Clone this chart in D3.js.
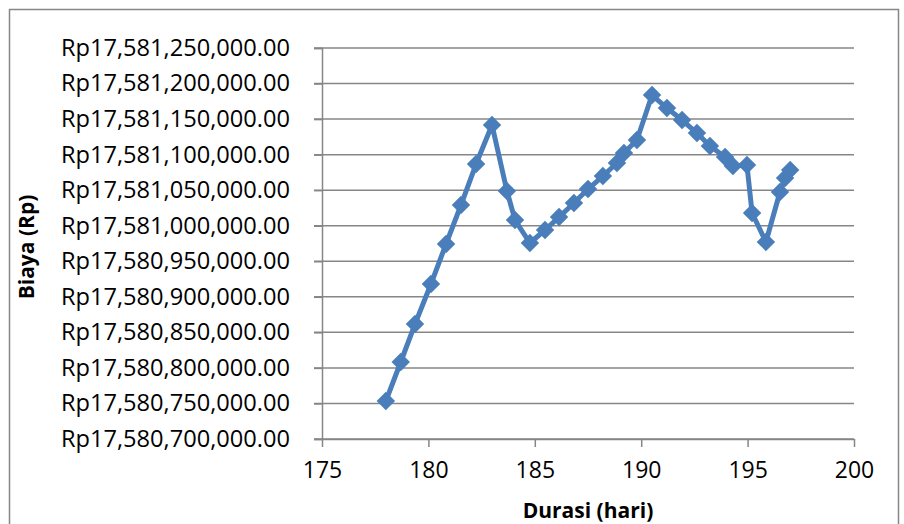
<!DOCTYPE html>
<html><head><meta charset="utf-8">
<script src="https://cdn.jsdelivr.net/npm/d3@7"></script>
<style>html,body{margin:0;padding:0;background:#fff;}svg{display:block;}</style>
</head><body>
<script>
const durasi = [178.0,178.7,179.37,180.12,180.83,181.53,182.24,182.99,183.69,184.07,184.77,185.48,186.14,186.84,187.5,188.2,188.86,189.19,189.8,190.51,191.21,191.92,192.62,193.23,193.94,194.31,194.97,195.21,195.86,196.52,196.76,197.0];
const biaya = [17580753400,17580808300,17580861700,17580918000,17580974300,17581029100,17581086800,17581141600,17581048800,17581008000,17580975700,17580994000,17581012200,17581031900,17581051600,17581069900,17581088200,17581102300,17581120500,17581183800,17581165500,17581148700,17581130400,17581112100,17581096600,17581084000,17581085400,17581017900,17580977100,17581047400,17581067100,17581078400];
const xTicks = [175,180,185,190,195,200];
const yTicks = [17580700000,17580750000,17580800000,17580850000,17580900000,17580950000,17581000000,17581050000,17581100000,17581150000,17581200000,17581250000];
const xTitle = "Durasi (hari)";
const yTitle = "Biaya (Rp)";

const W=904,H=524;
const svg=d3.select("body").append("svg").attr("width",W).attr("height",H);
svg.append("rect").attr("x",9.5).attr("y",9.5).attr("width",889).attr("height",540).attr("fill","#fff").attr("stroke","#868686").attr("stroke-width",1.5);

const x=d3.scaleLinear().domain([175,200]).range([322,854]);
const y=d3.scaleLinear().domain([17580700000,17581250000]).range([439,48]);
const font="'Open Sans', sans-serif";
const grid="#868686";

svg.append("g").selectAll("line").data(yTicks).join("line")
  .attr("x1",314).attr("x2",854).attr("y1",d=>y(d)).attr("y2",d=>y(d))
  .attr("stroke",grid).attr("stroke-width",1.5);

const fmt=d=>"Rp"+d3.format(",.2f")(d);
const yAxis=svg.append("g").attr("transform","translate(322,0)")
  .call(d3.axisLeft(y).tickValues(yTicks).tickFormat(fmt).tickSize(8).tickPadding(24));
yAxis.select(".domain").attr("stroke",grid).attr("stroke-width",1.5);
yAxis.selectAll(".tick line").attr("stroke",grid).attr("stroke-width",1.5);
yAxis.selectAll("text").attr("font-family",font).attr("font-size",23).attr("fill","#000")
  .attr("textLength",229).attr("lengthAdjust","spacingAndGlyphs");

const xAxis=svg.append("g").attr("transform","translate(0,439)")
  .call(d3.axisBottom(x).tickValues(xTicks).tickSize(8).tickPadding(15).tickSizeOuter(0));
xAxis.select(".domain").attr("stroke",grid).attr("stroke-width",1.5);
xAxis.selectAll(".tick line").attr("stroke",grid).attr("stroke-width",1.5);
xAxis.selectAll("text").attr("font-family",font).attr("font-size",23).attr("fill","#000");

svg.append("text").attr("x",588).attr("y",518).attr("text-anchor","middle")
  .attr("font-family",font).attr("font-weight","bold").attr("font-size",21).text(xTitle);
svg.append("text").attr("transform","translate(34,247) rotate(-90)").attr("text-anchor","middle")
  .attr("font-family",font).attr("font-weight","bold").attr("font-size",21).text(yTitle);

const data=durasi.map((d,i)=>[d,biaya[i]]);
const blue="#4a7ebb";
svg.append("path").datum(data)
  .attr("d",d3.line().x(d=>x(d[0])).y(d=>y(d[1])))
  .attr("fill","none").attr("stroke",blue).attr("stroke-width",5).attr("stroke-linejoin","round");
svg.append("g").selectAll("path").data(data).join("path")
  .attr("d",d3.symbol().type(d3.symbolSquare).size(170))
  .attr("transform",d=>`translate(${x(d[0])},${y(d[1])}) rotate(45)`)
  .attr("fill",blue);
</script>
</body></html>
